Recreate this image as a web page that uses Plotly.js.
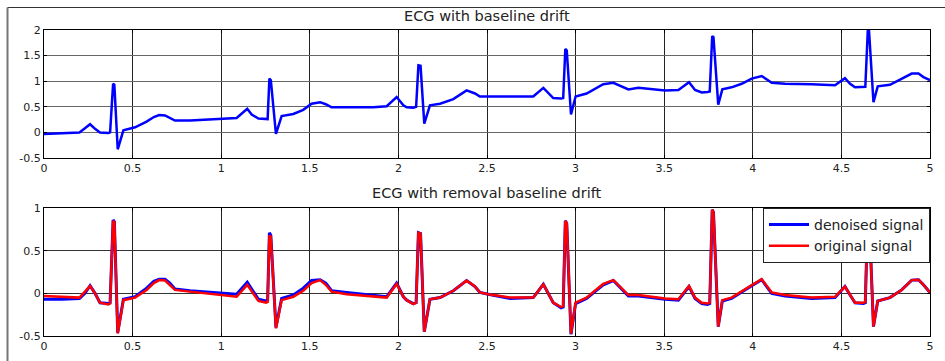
<!DOCTYPE html>
<html>
<head>
<meta charset="utf-8">
<script src="https://cdn.plot.ly/plotly-3.0.1.min.js"></script>
<style>
html,body{margin:0;padding:0;background:#fff;}
#chart{width:945px;height:361px;}
</style>
</head>
<body>
<div id="chart"></div>
<script>
// time (s)
const time = [
  0, 0.1, 0.2, 0.231, 0.26, 0.288, 0.316, 0.363, 0.373, 0.39, 0.397, 0.416, 0.448, 0.514, 0.579, 0.62, 0.65, 0.683, 0.71, 0.739, 0.824, 0.956, 1.087,
  1.147, 1.172, 1.21, 1.253, 1.262, 1.272, 1.28, 1.309, 1.341, 1.407, 1.463, 1.51, 1.558, 1.59, 1.623, 1.708, 1.858, 1.934,
  1.99, 2.028, 2.047, 2.084, 2.1, 2.113, 2.125, 2.146, 2.178, 2.235, 2.31, 2.385, 2.432, 2.46, 2.507, 2.63, 2.761,
  2.818, 2.874, 2.918, 2.93, 2.942, 2.95, 2.974, 3.0, 3.062, 3.109, 3.156, 3.213, 3.241, 3.298, 3.354, 3.505, 3.58,
  3.64, 3.674, 3.712, 3.745, 3.757, 3.771, 3.778, 3.805, 3.828, 3.88, 3.937, 3.994, 4.05, 4.107, 4.182, 4.332, 4.464,
  4.52, 4.549, 4.577, 4.624, 4.635, 4.649, 4.656, 4.681, 4.705, 4.774, 4.84, 4.897, 4.935, 4.963, 5.0
];

// ECG with baseline drift
const ecgDrift = [
  -0.03, -0.02, 0.0, 0.08, 0.16, 0.07, 0.0, -0.01, 0.0, 0.95, 0.93, -0.33, 0.04, 0.10, 0.21, 0.30, 0.34, 0.33, 0.28, 0.23, 0.23, 0.25, 0.28,
  0.46, 0.35, 0.27, 0.25, 0.26, 1.05, 1.02, -0.03, 0.32, 0.36, 0.44, 0.56, 0.59, 0.55, 0.49, 0.49, 0.49, 0.51,
  0.69, 0.53, 0.49, 0.48, 0.50, 1.31, 1.30, 0.17, 0.53, 0.56, 0.65, 0.82, 0.76, 0.70, 0.70, 0.69, 0.70,
  0.87, 0.67, 0.66, 0.67, 1.63, 1.60, 0.35, 0.70, 0.76, 0.85, 0.94, 0.97, 0.93, 0.84, 0.87, 0.82, 0.83,
  0.98, 0.83, 0.78, 0.79, 0.80, 1.88, 1.86, 0.54, 0.84, 0.88, 0.95, 1.05, 1.10, 0.97, 0.95, 0.94, 0.92,
  1.06, 0.95, 0.88, 0.88, 0.89, 1.99, 1.98, 0.59, 0.90, 0.93, 1.05, 1.15, 1.15, 1.08, 1.02
];

// ECG with removal baseline drift
const denoised = [
  -0.07, -0.07, -0.06, 0.0, 0.09, 0.0, -0.11, -0.12, -0.11, 0.86, 0.84, -0.46, -0.07, -0.04, 0.06, 0.14, 0.165, 0.165, 0.12, 0.05, 0.03, 0.01, -0.01,
  0.13, 0.05, -0.07, -0.09, -0.08, 0.71, 0.68, -0.40, -0.06, -0.02, 0.06, 0.15, 0.16, 0.12, 0.03, 0.01, -0.02, -0.04,
  0.12, -0.04, -0.08, -0.12, -0.11, 0.71, 0.70, -0.45, -0.07, -0.05, 0.03, 0.15, 0.08, 0.01, -0.01, -0.06, -0.05,
  0.105, -0.11, -0.17, -0.16, 0.85, 0.82, -0.48, -0.12, -0.06, 0.02, 0.10, 0.15, 0.09, -0.03, -0.03, -0.07, -0.08,
  0.08, -0.06, -0.12, -0.13, -0.12, 0.98, 0.95, -0.39, -0.09, -0.06, 0.01, 0.09, 0.16, 0.0, -0.03, -0.06, -0.05,
  0.08, -0.02, -0.11, -0.12, -0.11, 0.95, 0.93, -0.39, -0.09, -0.05, 0.04, 0.155, 0.16, 0.10, 0.01
];

const original = [
  -0.03, -0.04, -0.05, 0.02, 0.085, 0.0, -0.11, -0.13, -0.12, 0.85, 0.83, -0.47, -0.08, -0.05, 0.04, 0.12, 0.155, 0.15, 0.10, 0.04, 0.02, -0.01, -0.04,
  0.10, 0.02, -0.09, -0.11, -0.10, 0.68, 0.66, -0.41, -0.08, -0.04, 0.03, 0.12, 0.155, 0.10, 0.02, -0.01, -0.04, -0.05,
  0.11, -0.04, -0.08, -0.125, -0.11, 0.71, 0.70, -0.45, -0.07, -0.05, 0.03, 0.15, 0.08, 0.01, -0.01, -0.05, -0.05,
  0.105, -0.11, -0.16, -0.15, 0.85, 0.82, -0.47, -0.11, -0.05, 0.03, 0.11, 0.155, 0.10, -0.02, -0.02, -0.06, -0.07,
  0.085, -0.05, -0.11, -0.12, -0.11, 0.98, 0.95, -0.39, -0.08, -0.05, 0.02, 0.10, 0.165, 0.01, -0.02, -0.05, -0.04,
  0.08, -0.02, -0.11, -0.11, -0.10, 0.95, 0.93, -0.39, -0.09, -0.05, 0.04, 0.155, 0.16, 0.10, 0.01
];

const xTickVals = [0, 0.5, 1, 1.5, 2, 2.5, 3, 3.5, 4, 4.5, 5];
const xTickText = ["0", "0.5", "1", "1.5", "2", "2.5", "3", "3.5", "4", "4.5", "5"];
const yTopVals = [-0.5, 0, 0.5, 1, 1.5, 2];
const yTopText = ["-0.5", "0", "0.5", "1", "1.5", "2"];
const yBotVals = [-0.5, 0, 0.5, 1];
const yBotText = ["-0.5", "0", "0.5", "1"];

const titleTop = "ECG with baseline drift";
const titleBottom = "ECG with removal baseline drift";
const seriesNames = ["denoised signal", "original signal"];

const W = 945, H = 361;
const px = v => v / W;
const py = v => 1 - v / H;

const FONT = "DejaVu Sans, Liberation Sans, Arial, sans-serif";
const tickFont = {family: FONT, size: 11, color: "#222"};

const traces = [
  {x: time, y: ecgDrift, type: "scatter", mode: "lines", xaxis: "x", yaxis: "y",
   line: {color: "#0000ff", width: 2.5}, showlegend: false},
  {x: time, y: denoised, type: "scatter", mode: "lines", xaxis: "x2", yaxis: "y2",
   name: seriesNames[0], line: {color: "#0000ff", width: 3}},
  {x: time, y: original, type: "scatter", mode: "lines", xaxis: "x2", yaxis: "y2",
   name: seriesNames[1], line: {color: "#ff0000", width: 2.5}}
];

function xAxis(anchor) {
  return {
    domain: [px(44), px(930)], anchor: anchor, range: [0, 5],
    tickmode: "array", tickvals: xTickVals, ticktext: xTickText,
    ticks: "inside", ticklen: 3, tickcolor: "#000",
    showline: true, linecolor: "#000", linewidth: 1, mirror: "ticks",
    showgrid: true, gridcolor: "#222", gridwidth: 1, zeroline: false,
    tickfont: tickFont, fixedrange: true
  };
}
function yAxis(anchor, dom, rng, vals, text, grid) {
  return {
    domain: dom, anchor: anchor, range: rng,
    tickmode: "array", tickvals: vals, ticktext: text,
    ticks: "inside", ticklen: 3, tickcolor: "#000",
    showline: true, linecolor: "#000", linewidth: 1, mirror: "ticks",
    showgrid: true, gridcolor: grid, gridwidth: 1, zeroline: false,
    tickfont: tickFont, fixedrange: true
  };
}

const layout = {
  width: W, height: H,
  margin: {l: 0, r: 0, t: 0, b: 0},
  paper_bgcolor: "#fff", plot_bgcolor: "#fff",
  showlegend: true,
  xaxis: xAxis("y"),
  yaxis: yAxis("x", [py(158), py(30)], [-0.5, 2], yTopVals, yTopText, "#666"),
  xaxis2: xAxis("y2"),
  yaxis2: yAxis("x2", [py(336), py(208)], [-0.5, 1], yBotVals, yBotText, "#333"),
  legend: {
    x: px(930), xanchor: "right", y: py(208), yanchor: "top",
    bgcolor: "#fff", bordercolor: "#222", borderwidth: 1,
    font: {family: FONT, size: 14, color: "#222"},
    itemwidth: 40, tracegroupgap: 0
  },
  annotations: [
    {text: titleTop, xref: "paper", yref: "paper", x: px(487), y: py(16),
     xanchor: "center", yanchor: "middle", showarrow: false,
     font: {family: FONT, size: 14.5, color: "#222"}},
    {text: titleBottom, xref: "paper", yref: "paper", x: px(487), y: py(193),
     xanchor: "center", yanchor: "middle", showarrow: false,
     font: {family: FONT, size: 14.5, color: "#222"}}
  ],
  shapes: [
    {type: "line", xref: "paper", yref: "paper", x0: px(7.5), x1: 1, y0: py(7.5), y1: py(7.5),
     line: {color: "#333", width: 1}},
    {type: "line", xref: "paper", yref: "paper", x0: px(7.5), x1: px(7.5), y0: py(7.5), y1: 0,
     line: {color: "#777", width: 2}}
  ]
};

Plotly.newPlot("chart", traces, layout, {displayModeBar: false, staticPlot: true});
</script>
</body>
</html>
